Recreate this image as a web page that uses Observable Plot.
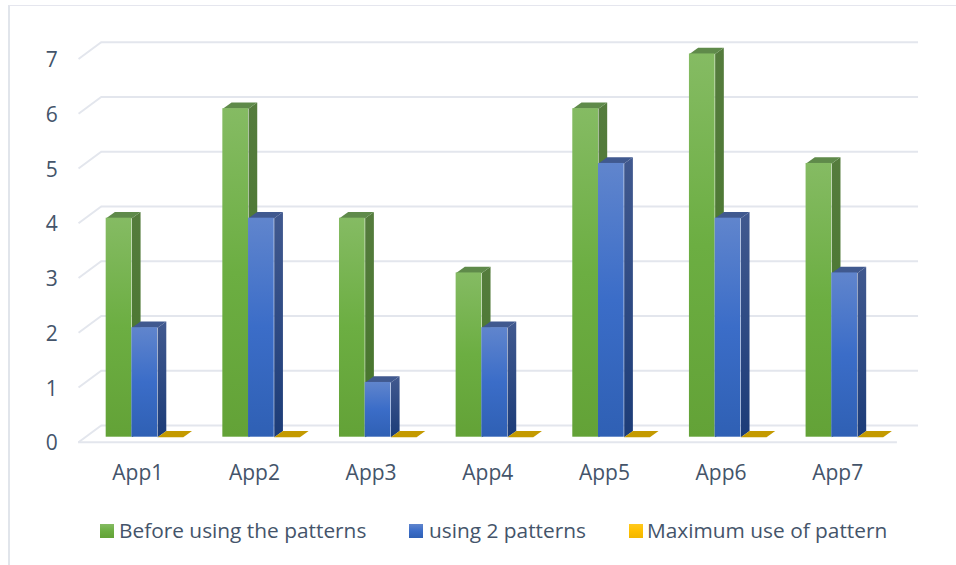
<!DOCTYPE html>
<html><head><meta charset="utf-8">
<script src="https://cdn.jsdelivr.net/npm/d3@7"></script>
<script src="https://cdn.jsdelivr.net/npm/@observablehq/plot@0.6"></script>
<style>
html,body{margin:0;padding:0;background:#fff;width:956px;height:565px;overflow:hidden}
#frame{position:absolute;left:8px;top:5px;width:960px;height:570px;border-top:1.5px solid #e5e6ee;border-left:2px solid #e1e5eb;box-sizing:border-box}
#chart{position:absolute;left:0;top:0}
#chart svg{background:none}
#legend{position:absolute;left:0;top:516px;height:28px;font:20.85px "Open Sans",sans-serif;color:#44546a;white-space:nowrap}
#legend span{position:absolute;top:0;line-height:28px}
#legend i{position:absolute;top:8px;width:14px;height:14px}
</style></head><body>
<div id="frame"></div>
<div id="chart"></div>
<div id="legend"></div>
<script>
const apps = ["App1","App2","App3","App4","App5","App6","App7"];
const seriesNames = ["Before using the patterns","using 2 patterns","Maximum use of pattern"];
const beforePatterns = [4,6,4,3,6,7,5];
const using2Patterns = [2,4,1,2,5,4,3];
const maximumUse = [0,0,0,0,0,0,0];
const yTicks = [0,1,2,3,4,5,6,7];
const palettes = [
  {id:"g",top:"#85bb63",mid:"#6cae42",bot:"#63a237",sideTop:"#557c3d",sideBot:"#45752a",cap:"#5f8a4a"},
  {id:"b",top:"#6085cd",mid:"#3b6dc8",bot:"#2f60b4",sideTop:"#41598f",sideBot:"#1c3c78",cap:"#40598f"},
  {id:"y",top:"#ffc91f",mid:"#ffc000",bot:"#f2b600",sideTop:"#c49a00",sideBot:"#c49a00",cap:"#c49a00"}
];
// geometry in scale units (categories / values)
const barStart=-0.271, barW=0.2203, depthX=0.0746, depthY=0.115;
const wallLeft=-0.508, wallBack=-0.314, wallRight=6.693, floorRight=6.512, wallUp=0.214, wallDown=-0.091;

const bars=[], sides=[], caps=[];
[beforePatterns,using2Patterns,maximumUse].forEach((vals,s)=>{
  vals.forEach((v,i)=>{
    const x1=i+barStart+s*barW, x2=x1+barW, id=`${s}-${i}`;
    if(v>0){
      bars.push({s,x1,x2,v});
      [[x2,0],[x2+depthX,depthY],[x2+depthX,v+depthY],[x2,v]].forEach(([x,y])=>sides.push({id,s,x,y}));
    }
    [[x1,v],[x2,v],[x2+depthX,v+depthY],[x1+depthX,v+depthY]].forEach(([x,y])=>caps.push({id,s,x,y}));
  });
});

const defs=()=>{
  const d=d3.create("svg:defs");
  palettes.forEach(p=>{
    const f=d.append("linearGradient").attr("id","front-"+p.id).attr("x1",0).attr("x2",0).attr("y1",0).attr("y2",1);
    f.append("stop").attr("offset","0%").attr("stop-color",p.top);
    f.append("stop").attr("offset","50%").attr("stop-color",p.mid);
    f.append("stop").attr("offset","100%").attr("stop-color",p.bot);
    const e=d.append("linearGradient").attr("id","side-"+p.id).attr("x1",0).attr("x2",0).attr("y1",0).attr("y2",1);
    e.append("stop").attr("offset","0%").attr("stop-color",p.sideTop);
    e.append("stop").attr("offset","100%").attr("stop-color",p.sideBot);
  });
  return d.node();
};

const gridColor="#e3e6ed";
const seriesMarks=[0,1,2].flatMap(s=>{
  const p=palettes[s];
  return [
    Plot.line(sides.filter(d=>d.s===s),{x:"x",y:"y",z:"id",fill:`url(#side-${p.id})`,stroke:"none"}),
    Plot.line(caps.filter(d=>d.s===s),{x:"x",y:"y",z:"id",fill:p.cap,stroke:"none"}),
    Plot.rect(bars.filter(d=>d.s===s),{x1:"x1",x2:"x2",y1:0,y2:"v",fill:`url(#front-${p.id})`,inset:0})
  ];
});

const chart=Plot.plot({
  width:956,height:500,
  marginLeft:137.3,marginRight:118.8,marginTop:53.45,marginBottom:63.3,
  style:{background:"transparent",fontFamily:'"Open Sans",sans-serif',overflow:"visible"},
  x:{type:"linear",domain:[0,6]},
  y:{type:"linear",domain:[0,7]},
  marks:[
    defs,
    Plot.ruleY(yTicks,{y:d=>d+wallUp,x1:wallBack,x2:wallRight,stroke:gridColor,strokeWidth:2}),
    Plot.link(yTicks,{x1:wallLeft,x2:wallBack,y1:d=>d+wallDown,y2:d=>d+wallUp,stroke:gridColor,strokeWidth:2}),
    Plot.ruleY([wallDown],{x1:wallLeft,x2:floorRight,stroke:gridColor,strokeWidth:2}),
    ...seriesMarks,
    Plot.axisX(d3.range(apps.length),{tickSize:0,tickPadding:28,tickFormat:i=>apps[i],label:null,fontSize:21,fill:"#44546a"}),
    Plot.axisY(yTicks,{tickSize:0,tickPadding:80,dy:6.5,tickFormat:d=>String(d),label:null,fontSize:21,fill:"#44546a"})
  ]
});
document.getElementById("chart").append(chart);

const legendLeft=[[100,119],[409,429],[629,647]];
const legend=document.getElementById("legend");
seriesNames.forEach((n,i)=>{
  const p=palettes[i];
  const sw=document.createElement("i");
  sw.style.left=legendLeft[i][0]+"px";
  sw.style.background=`linear-gradient(${p.top},${p.mid} 50%,${p.bot})`;
  const t=document.createElement("span");
  t.style.left=legendLeft[i][1]+"px";
  t.textContent=n;
  legend.append(sw,t);
});
</script>
</body></html>
